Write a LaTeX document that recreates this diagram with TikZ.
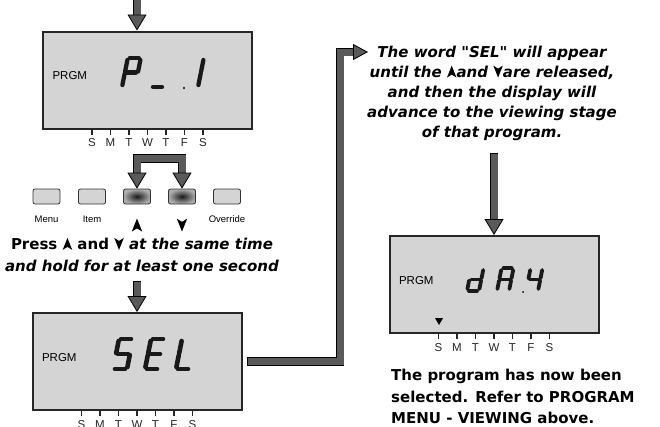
\documentclass[tikz,border=0pt]{standalone}
\usepackage{fontspec}
\setmainfont{Liberation Sans}
\newfontfamily\heavy{DejaVu Sans}
\usetikzlibrary{arrows.meta, positioning, calc}

\definecolor{lcdgray}{RGB}{212,212,212}
\definecolor{bargray}{RGB}{90,90,90}

% key glyphs used in the texts
\newcommand\uparr[1][1]{\tikz[x=#1pt,y=#1pt,baseline=0pt]\fill (0,0) -- (4,10) -- (8,0) -- (4,2.5) -- cycle;}
\newcommand\dnarr[1][1]{\tikz[x=#1pt,y=#1pt,baseline=0pt]\fill (0,10) -- (4,0) -- (8,10) -- (4,7.5) -- cycle;}

% one seven-segment character: left, bottom, width, height, segments, line width
\newcommand\lcdchar[6]{%
  \begin{scope}[shift={(#1,#2)}, xslant=0.2]
    \coordinate (seg-a-1) at (2,-#4);          \coordinate (seg-a-2) at (#3-2,-#4);
    \coordinate (seg-b-1) at (#3,-#4+2);       \coordinate (seg-b-2) at (#3,-#4/2-1);
    \coordinate (seg-c-1) at (#3,-#4/2+1);     \coordinate (seg-c-2) at (#3,-2);
    \coordinate (seg-d-1) at (2,0);            \coordinate (seg-d-2) at (#3-2,0);
    \coordinate (seg-e-1) at (0,-#4/2+1);      \coordinate (seg-e-2) at (0,-2);
    \coordinate (seg-f-1) at (0,-#4+2);        \coordinate (seg-f-2) at (0,-#4/2-1);
    \coordinate (seg-g-1) at (2,-#4/2);        \coordinate (seg-g-2) at (#3-2,-#4/2);
    \foreach \s in {#5} {\draw[lcdseg, line width=#6] (seg-\s-1) -- (seg-\s-2);}
  \end{scope}}

\newcommand\daystrip[1]{%
  \foreach \d [count=\i from 0] in {S,M,T,W,T,F,S}
    \draw[line width=1.5pt, black!85] ($(#1.south west)+(50+18.5*\i,0)$) -- ++(0,5) node[day, below=3.5pt] {\d};}

\begin{document}
\begin{tikzpicture}[x=1pt, y=-1pt,
  > = {Triangle[width=19pt, length=16pt, line width=0.8pt, color=black, fill=bargray]},
  lcd/.style = {draw=black!85, line width=2pt, fill=lcdgray, minimum width=209pt, minimum height=97pt},
  lcdseg/.style = {line cap=round, draw=black!90},
  prgm/.style = {font=\fontsize{11.5}{12}\selectfont},
  day/.style = {font=\fontsize{11.5}{12}\selectfont, inner sep=0pt},
  key/.style = {draw=black!80, line width=0.8pt, rounded corners=2pt, fill=lcdgray, minimum width=27pt, minimum height=15pt},
  pressed/.style = {key, inner color=black!90, outer color=black!32},
  keylabel/.style = {font=\fontsize{9.5}{10}\selectfont},
  fat/.style = {line width=7pt, draw=bargray, ->, preaction={draw=black, line width=8.6pt, -, shorten >=10pt, shorten <=-0.8pt}},
  fat both/.style = {line width=7pt, draw=bargray, <->, preaction={draw=black, line width=8.6pt, -, shorten >=10pt, shorten <=10pt}}
  ]
  \useasboundingbox (0,0) rectangle (660,426);

  % display P_1
  \node[lcd] (lcd1) at (147.5,80) {};
  \node[prgm, right=7pt of lcd1.west, yshift=4pt] {PRGM};
  \lcdchar{122}{87}{13}{29}{a,b,e,f,g}{4.3pt}
  \lcdchar{151}{87}{13}{29}{d}{4.3pt}
  \lcdchar{185}{87}{13}{29}{b,c}{4.3pt}
  \fill (184,88) circle (1.2);
  \daystrip{lcd1}

  % keys
  \node[key] (k1) at (46.5,196.5) {};
  \node[key] (k2) at (92,196.5) {};
  \node[pressed] (k3) at (137,196.5) {};
  \node[pressed] (k4) at (182,196.5) {};
  \node[key] (k5) at (227,196.5) {};
  \node[keylabel, below=8pt of k1] {Menu};
  \node[keylabel, below=8pt of k2] {Item};
  \node[inner sep=0pt, below=14pt of k3] {\uparr[1.3]};
  \node[inner sep=0pt, below=14pt of k4] {\dnarr[1.3]};
  \node[keylabel, below=8pt of k5] {Override};

  \node[font=\heavy\bfseries\fontsize{15}{22}\selectfont, align=center, inner sep=0pt] (press) at (142,255)
    {Press \uparr[1.2] and \dnarr[1.2] \textit{at the same time}\\\textit{and hold for at least one second}};

  % display SEL
  \node[lcd] (sel) at (137,361.5) {};
  \node[prgm, right=7pt of sel.west, yshift=4pt] {PRGM};
  \lcdchar{113}{369}{14}{30}{a,c,d,f,g}{4.6pt}
  \lcdchar{145}{369}{14}{30}{a,d,e,f,g}{4.6pt}
  \lcdchar{176}{369}{14}{30}{d,e,f}{4.6pt}
  \daystrip{sel}

  \node[font=\heavy\bfseries\itshape\fontsize{15}{20}\selectfont, align=center, anchor=north, inner sep=0pt] (selnote) at (492,46)
    {The word "SEL" will appear\\until the \uparr[1.2]and \dnarr[1.2]are released,\\and then the display will\\advance to the viewing stage\\of that program.};

  % display dAY
  \node[lcd] (day) at (494,284.5) {};
  \node[prgm, right=7pt of day.west, yshift=4pt] {PRGM};
  \lcdchar{467}{291}{12}{23}{b,c,d,e,g}{3.8pt}
  \lcdchar{497}{291}{12}{23}{a,b,c,e,f,g}{3.8pt}
  \lcdchar{526}{291}{12}{23}{b,c,f,g}{3.8pt}
  \fill (523,292) circle (1);
  \fill (435,318) -- (443,318) -- (439,325) -- cycle;
  \daystrip{day}

  \node[font=\heavy\bfseries\fontsize{15}{21.5}\selectfont, align=left, anchor=north west, inner sep=0pt] (result) at (391,369)
    {The program has now been\\selected. Refer to PROGRAM\\MENU - VIEWING above.};

  % connectors
  \coordinate (in1) at (137,0);
  \draw[fat] (in1) -- (in1 |- lcd1.north);
  \draw[fat both] (k3.north) -- ++(0,-30) -| (k4.north);
  \coordinate (in2) at (137,282);
  \draw[fat] (in2) -- (in2 |- sel.north);
  \coordinate (bend) at (340,52);
  \coordinate (notein) at (368,52);
  \draw[fat, -{Triangle[width=16pt, length=15pt, line width=0.8pt, color=black, fill=bargray]}] ([xshift=5pt]sel.east) -| (bend) -- (notein);
  \coordinate (noteout) at (494,154);
  \draw[fat] (noteout) -- (noteout |- day.north);
\end{tikzpicture}
\end{document}
